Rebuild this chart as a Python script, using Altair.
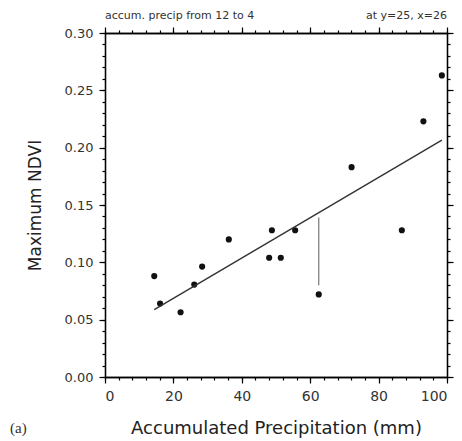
import altair as alt
import pandas as pd

# Observations: accumulated precipitation (mm) vs maximum NDVI
precip = [14.4, 16.1, 22.1, 26.1, 28.4, 36.2, 48.0, 48.8, 51.4, 55.6, 62.5, 72.1, 86.8, 93.1, 98.5]
ndvi = [0.088, 0.064, 0.0565, 0.0806, 0.0963, 0.120, 0.104, 0.128, 0.104, 0.128,
        0.072, 0.183, 0.128, 0.223, 0.263]

# Residual marker for the largest outlier
resid_x = [62.5]
resid_top = [0.139]
resid_bottom = [0.080]

# Tick positions
x_major = [0, 20, 40, 60, 80, 100]
x_minor = list(range(0, 101, 4))
y_major = [0.0, 0.05, 0.10, 0.15, 0.20, 0.25, 0.30]
y_minor = [round(i * 0.01, 2) for i in range(31)]

header_left = ["accum. precip from 12 to 4"]
header_right = ["at y=25, x=26"]
panel_tag = ["(a)"]

df = pd.DataFrame({"precip": precip, "ndvi": ndvi})
resid = pd.DataFrame({"x": resid_x, "top": resid_top, "bottom": resid_bottom})

W, H = 342, 344
FONT = "DejaVu Sans"
xs = alt.Scale(domain=[0, 100], nice=False, zero=False)
ys = alt.Scale(domain=[0, 0.30], nice=False, zero=False)

common_axis = dict(domainColor="black", domainWidth=1.3, tickColor="black",
                   tickWidth=1.2, grid=False)


def make_axis(orient, values, size, labels, **kw):
    return alt.Axis(orient=orient, values=values, tickSize=size, labels=labels,
                    **common_axis, **kw)


# Scatter points carry the labelled bottom/left axes
points = alt.Chart(df).mark_circle(size=38, color="#111111", opacity=1).encode(
    x=alt.X("precip:Q", scale=xs, title="Accumulated Precipitation (mm)",
            axis=make_axis("bottom", x_major, 6, True, labelFont=FONT, labelFontSize=14,
                           labelColor="#333333", labelPadding=6,
                           titleFont=FONT, titleFontSize=18, titleFontWeight="normal",
                           titleColor="#222222", titleX=W / 2, titleY=56,
                           titleAlign="center", titleBaseline="alphabetic")),
    y=alt.Y("ndvi:Q", scale=ys, title="Maximum NDVI",
            axis=make_axis("left", y_major, 6, True, format=".2f", labelFont=FONT,
                           labelFontSize=13, labelColor="#333333", labelPadding=6,
                           titleFont=FONT, titleFontSize=17, titleFontWeight="normal",
                           titleColor="#222222", titleX=-70, titleY=H / 2,
                           titleAngle=270, titleAlign="center", titleBaseline="middle")),
)


def tick_layer(xo, xv, yo, yv, size):
    return alt.Chart(df).mark_point(opacity=0).encode(
        x=alt.X("precip:Q", scale=xs, title=None, axis=make_axis(xo, xv, size, False)),
        y=alt.Y("ndvi:Q", scale=ys, title=None, axis=make_axis(yo, yv, size, False)),
    )


mirror_major = tick_layer("top", x_major, "right", y_major, 6)
minor_low = tick_layer("bottom", x_minor, "left", y_minor, 3)
minor_high = tick_layer("top", x_minor, "right", y_minor, 3)

# Least-squares fit through the observations
fit = alt.Chart(df).transform_regression("precip", "ndvi").mark_line(
    color="#333333", strokeWidth=1.4
).encode(x=alt.X("precip:Q", scale=xs, axis=None),
         y=alt.Y("ndvi:Q", scale=ys, axis=None))

rule = alt.Chart(resid).mark_rule(color="#777777", strokeWidth=1.2).encode(
    x=alt.X("x:Q", scale=xs, axis=None),
    y=alt.Y("top:Q", scale=ys, axis=None),
    y2="bottom:Q",
)

txt_left = alt.Chart(pd.DataFrame({"t": header_left})).mark_text(
    font=FONT, fontSize=11, align="left", baseline="alphabetic", color="#333333"
).encode(text="t:N", x=alt.value(0), y=alt.value(-14))

txt_right = alt.Chart(pd.DataFrame({"t": header_right})).mark_text(
    font=FONT, fontSize=11, align="right", baseline="alphabetic", color="#333333"
).encode(text="t:N", x=alt.value(W), y=alt.value(-14))

tag = alt.Chart(pd.DataFrame({"t": panel_tag})).mark_text(
    font="Liberation Serif", fontSize=15, align="left", baseline="alphabetic",
    color="#3a2e28"
).encode(text="t:N", x=alt.value(-95), y=alt.value(H + 56))

chart = alt.layer(
    points, mirror_major, minor_low, minor_high, fit, rule, txt_left, txt_right, tag
).resolve_axis(x="independent", y="independent").properties(
    width=W, height=H,
    autosize=alt.AutoSizeParams(type="none"),
    padding={"left": 105, "top": 33, "right": 15, "bottom": 64},
    background="white",
).configure_view(stroke=None)

chart.save("out.html", embed_options={"renderer": "svg", "actions": False})
